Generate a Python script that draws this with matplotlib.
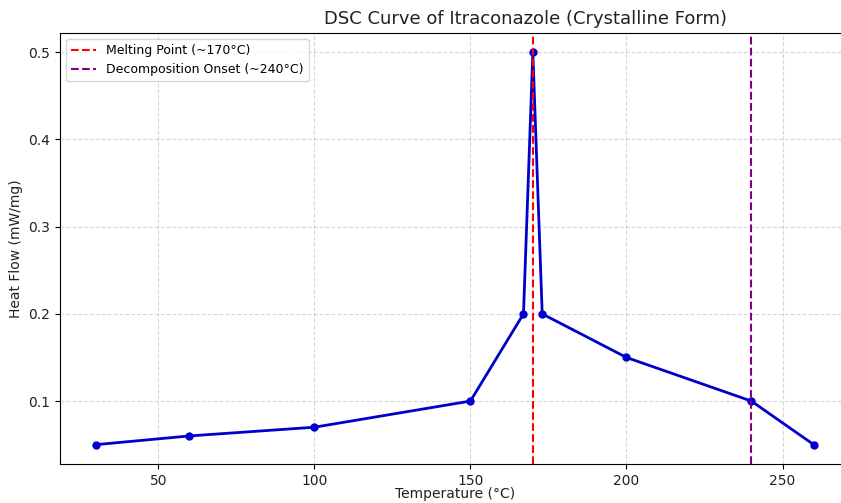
import matplotlib.pyplot as plt

# temperature (C) and heat flow (mW/mg)
temperature = [30, 60, 100, 150, 167, 170, 173, 200, 240, 260]
heat_flow = [0.05, 0.06, 0.07, 0.10, 0.20, 0.50, 0.20, 0.15, 0.10, 0.05]
melting_point = 170
decomposition = 240

fig = plt.figure(figsize=(8.41, 5.03), dpi=100)
ax = fig.add_axes([0.0713, 0.077, 0.939, 0.858])

ax.plot(temperature, heat_flow, '-o', color='mediumblue', linewidth=2, markersize=5)
ax.axvline(melting_point, color='red', linestyle='--', linewidth=1.5, label='Melting Point (~170°C)')
ax.axvline(decomposition, color='purple', linestyle='--', linewidth=1.5, label='Decomposition Onset (~240°C)')

ax.set_xticks([50, 100, 150, 200, 250])
ax.set_yticks([0.1, 0.2, 0.3, 0.4, 0.5])
ax.tick_params(labelsize=10, labelcolor='#222222')
ax.grid(True, linestyle='--', alpha=0.5, linewidth=0.8)
ax.legend(loc='upper left', fontsize=9)
ax.set_title('DSC Curve of Itraconazole (Crystalline Form)', x=0.589, fontsize=13, color='#222222')
ax.set_xlabel('Temperature (°C)', color='#222222')
ax.xaxis.set_label_coords(0.5, -0.053)
ax.set_ylabel('Heat Flow (mW/mg)', color='#222222')

fig.savefig('out.png')
